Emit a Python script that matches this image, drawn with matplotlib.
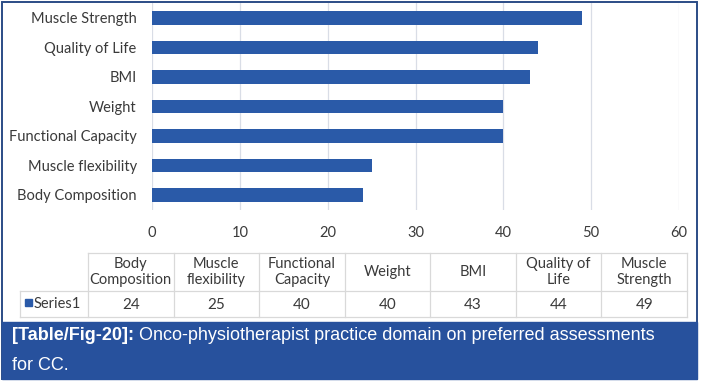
import matplotlib
matplotlib.use("Agg")
from matplotlib import pyplot as plt
from matplotlib.patches import Rectangle

# chart data (bottom to top on the bars, left to right in the table)
categories = ["Body Composition", "Muscle flexibility", "Functional Capacity",
              "Weight", "BMI", "Quality of Life", "Muscle Strength"]
header_labels = ["Body\nComposition", "Muscle\nflexibility", "Functional\nCapacity",
                 "Weight", "BMI", "Quality of\nLife", "Muscle\nStrength"]
values = [24, 25, 40, 40, 43, 44, 49]
series_name = "Series1"
x_ticks = [0, 10, 20, 30, 40, 50, 60]

W, H = 701, 381
bar_color = "#2a5aa8"
grid_color = "#d9dde6"
text_color = "#3a3a3a"
navy = "#2b4c86"
caption_bg = "#27519d"

plt.rcParams["font.family"] = ["Lato", "DejaVu Sans"]

fig = plt.figure(figsize=(W / 100, H / 100), dpi=100)


def px_axes(left, top, right, bottom):
    # axes placed by pixel box (origin top left)
    return fig.add_axes([left / W, 1 - bottom / H, (right - left) / W, (bottom - top) / H])


# bar chart
ax = px_axes(152, 3.25, 679, 209.75)
ax.barh(range(len(values)), values, height=0.46, color=bar_color, zorder=3)
ax.set_xlim(0, 60)
ax.set_ylim(-0.5, len(values) - 0.5)
ax.set_xticks(x_ticks)
ax.set_yticks(range(len(categories)))
ax.set_yticklabels(categories)
ax.grid(axis="x", color=grid_color, linewidth=0.9, zorder=0)
ax.tick_params(length=0, labelsize=10.5, colors=text_color)
ax.tick_params(axis="y", pad=11)
ax.tick_params(axis="x", pad=12)
for s in ax.spines.values():
    s.set_visible(False)

# overlay in pixel coordinates for data table, frame and caption
ov = fig.add_axes([0, 0, 1, 1])
ov.set_xlim(0, W)
ov.set_ylim(H, 0)
ov.axis("off")
ov.patch.set_alpha(0)

line_c = "#d9d9d9"
t_left, t_right = 88, 687
row_lab_left = 20
y_top, y_mid, y_bot = 252.7, 290.7, 316.7
col_w = (t_right - t_left) / len(categories)

ov.plot([t_left, t_right], [y_top, y_top], color=line_c, lw=0.9)
ov.plot([row_lab_left, t_right], [y_mid, y_mid], color=line_c, lw=0.9)
ov.plot([row_lab_left, t_right], [y_bot, y_bot], color=line_c, lw=0.9)
ov.plot([row_lab_left, row_lab_left], [y_mid, y_bot], color=line_c, lw=0.9)
for i in range(len(categories) + 1):
    x = t_left + i * col_w
    ov.plot([x, x], [y_top, y_bot], color=line_c, lw=0.9)

for i, (lab, v) in enumerate(zip(header_labels, values)):
    cx = t_left + (i + 0.5) * col_w
    ov.text(cx, (y_top + y_mid) / 2, lab, ha="center", va="center",
            fontsize=10.5, color=text_color, linespacing=1.2)
    ov.text(cx, (y_mid + y_bot) / 2 + 1, str(v), ha="center", va="center",
            fontsize=11, color=text_color)

ov.add_patch(Rectangle((25, 299), 7, 7, color=bar_color))
ov.text(34, (y_mid + y_bot) / 2, series_name, ha="left", va="center",
        fontsize=10.5, color=text_color)

# outer frame and caption band
ov.add_patch(Rectangle((1.5, 1.5), 695, 377, fill=False, edgecolor=navy, lw=1.4))
ov.add_patch(Rectangle((1.5, 322), 695, 56.5, color=caption_bg))

cap_font = ["Liberation Sans", "DejaVu Sans"]
bold = ov.text(12, 335, "[Table/Fig-20]:", ha="left", va="center",
               fontsize=13, fontweight="bold", color="white", family=cap_font)
ov.annotate(" Onco-physiotherapist practice domain on preferred assessments",
            xy=(1, 0.5), xycoords=bold, ha="left", va="center",
            fontsize=13, color="white", family=cap_font)
ov.text(12, 365, "for CC.", ha="left", va="center",
        fontsize=13, color="white", family=cap_font)

fig.savefig("out.png", dpi=100)
